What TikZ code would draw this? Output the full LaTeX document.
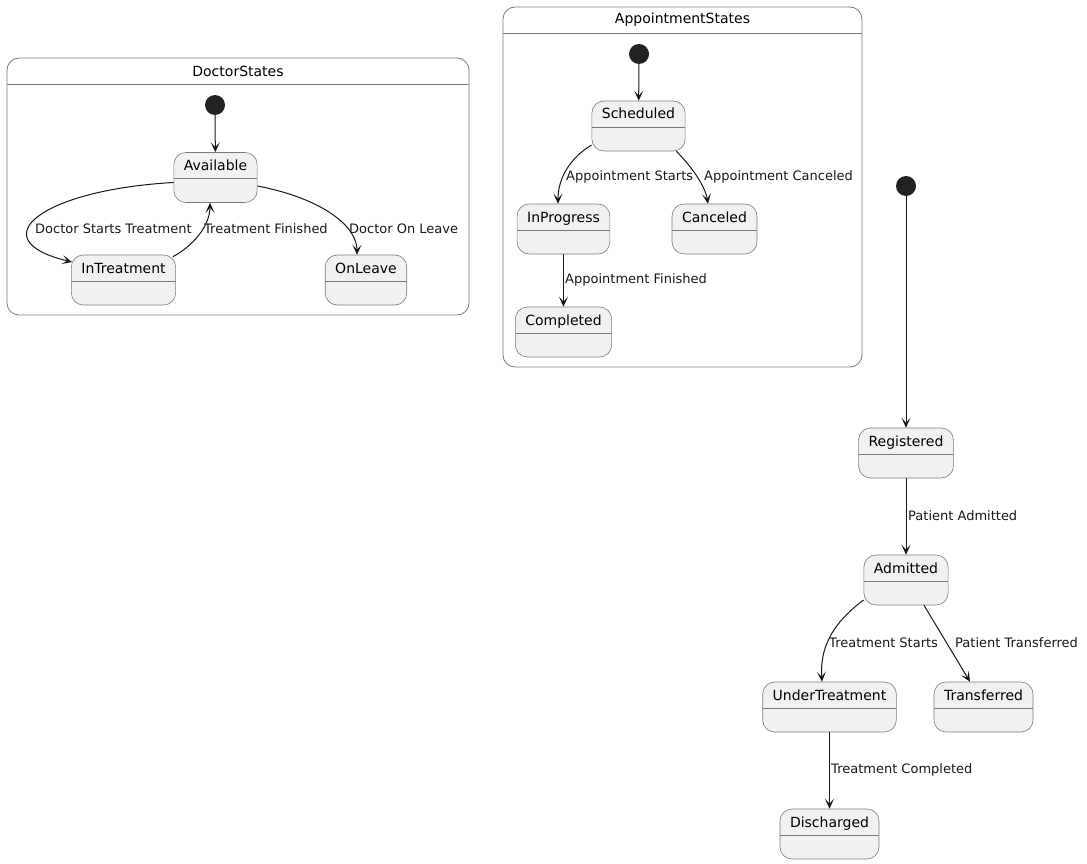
\documentclass[tikz,border=0pt]{standalone}
\usepackage{fontspec}
\setmainfont{DejaVu Sans}
\usetikzlibrary{arrows.meta}

\definecolor{statefill}{HTML}{F1F1F1}
\definecolor{bordergray}{HTML}{7A7A7A}
\definecolor{linecol}{HTML}{181818}
\definecolor{initfill}{HTML}{222222}

\tikzset{
	state/.style={draw=bordergray, fill=statefill, rounded corners=12pt, line width=0.6pt,
		inner xsep=10pt, inner ysep=0pt, text height=18pt, text depth=32pt,
		font=\fontsize{14}{16}\selectfont,
		path picture={\draw[bordergray, line width=0.6pt]
			([yshift=-26pt]path picture bounding box.north west) --
			([yshift=-26pt]path picture bounding box.north east);}},
	init/.style={circle, fill=initfill, minimum size=20pt, inner sep=0pt},
	trans/.style={-{Stealth[length=10pt, width=9pt, inset=5pt]}, line width=1pt, draw=linecol},
	lbl/.style={anchor=west, inner sep=0pt, text=linecol, font=\fontsize{13}{15}\selectfont},
	cluster/.style={draw=bordergray, line width=0.8pt, rounded corners=12pt},
	clustertitle/.style={inner sep=0pt, font=\fontsize{14}{16}\selectfont}
}

\begin{document}
\begin{tikzpicture}[x=1pt, y=-1pt]
		\useasboundingbox (0,0) rectangle (1087,864);
		
		%doctor states
		\draw[cluster] (7,58) rectangle (469,315);
		\draw[bordergray, line width=0.8pt] (7,84)--(469,84);
		\node[clustertitle] (dtitle) at (238,71){DoctorStates};
		\node[init] (d0) at (215,105){};
		\node[state] (dav) at (215.5,177.5){Available};
		\node[state] (dit) at (123.5,280){InTreatment};
		\node[state] (dol) at (366,280){OnLeave};
		
		\draw[trans] (d0) -- (dav);
		\draw[trans] ([yshift=-5pt]dav.west) .. controls (40,190) and (-20,240) .. ([xshift=1pt,yshift=18pt]dit.west);
		\draw[trans] ([xshift=-3pt,yshift=-2pt]dit.north east) .. controls (198,243) and (210,222) .. ([xshift=-5.5pt]dav.south);
		\draw[trans] ([yshift=-8.5pt]dav.east) .. controls (320,198) and (357,225) .. ([xshift=-9pt]dol.north);
		\node[lbl] (l1) at (35,229){Doctor Starts Treatment};
		\node[lbl] (l2) at (204,229){Treatment Finished};
		\node[lbl] (l3) at (349,229){Doctor On Leave};
		
		%appointment states
		\draw[cluster] (503,7) rectangle (862,367);
		\draw[bordergray, line width=0.8pt] (503,33)--(862,33);
		\node[clustertitle] (atitle) at (682.5,20){AppointmentStates};
		\node[init] (a0) at (639,54){};
		\node[state] (asc) at (638.5,126){Scheduled};
		\node[state] (aip) at (563.5,229){InProgress};
		\node[state] (aca) at (714.5,229){Canceled};
		\node[state] (aco) at (563.5,332){Completed};
		
		\draw[trans] (a0) -- (asc);
		\draw[trans] ([yshift=-19pt]asc.west) .. controls (570,158) and (558,178) .. ([xshift=-5.5pt]aip.north);
		\draw[trans] ([xshift=-9pt]asc.south east) .. controls (690,165) and (705,185) .. ([xshift=-6.5pt]aca.north);
		\draw[trans] (aip) -- (aco);
		\node[lbl] (l4) at (566,177){Appointment Starts};
		\node[lbl] (l5) at (704,177){Appointment Canceled};
		\node[lbl] (l6) at (565,280){Appointment Finished};
		
		%patient states
		\node[init] (p0) at (906,186){};
		\node[state] (preg) at (906,453){Registered};
		\node[state] (padm) at (906,580){Admitted};
		\node[state] (pund) at (829.5,707){UnderTreatment};
		\node[state] (ptra) at (983.5,707){Transferred};
		\node[state] (pdis) at (829.5,834){Discharged};
		
		\foreach \a/\b in {p0/preg, preg/padm, pund/pdis}{
			\draw[trans] (\a) -- (\b);
		}
		\draw[trans] ([yshift=-20pt]padm.west) .. controls (830,625) and (820,650) .. ([xshift=-7.5pt]pund.north);
		\draw[trans] ([xshift=18pt]padm.south) -- ([xshift=-13.5pt]ptra.north);
		\node[lbl] (l7) at (908,516){Patient Admitted};
		\node[lbl] (l8) at (829,643){Treatment Starts};
		\node[lbl] (l9) at (955,643){Patient Transferred};
		\node[lbl] (l10) at (831,770){Treatment Completed};
\end{tikzpicture}
\end{document}
